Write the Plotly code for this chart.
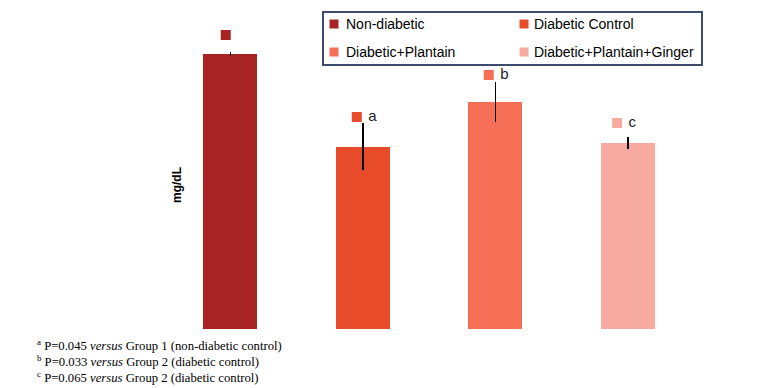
import plotly.graph_objects as go

groups = ["Non-diabetic", "Diabetic Control", "Diabetic+Plantain", "Diabetic+Plantain+Ginger"]
values = [274.7, 182.3, 227.3, 186.0]
errors = [2.0, 23.5, 20.0, 5.7]
colors = ["#A82424", "#E84B2A", "#F46F55", "#F6AAA0"]
sig_letters = ["", "a", "b", "c"]
label_heights = [294, 212, 254, 206]
label_offsets = [-0.034, -0.045, -0.049, -0.08]

footnotes = [
    "<sup>a</sup> P=0.045 <i>versus</i> Group 1 (non-diabetic control)",
    "<sup>b</sup> P=0.033 <i>versus</i> Group 2 (diabetic control)",
    "<sup>c</sup> P=0.065 <i>versus</i> Group 2 (diabetic control)",
]

# layout geometry (pixels)
W, H = 782, 388
L, R, T, B = 164, 88, 29, 59
PW, PH = W - L - R, H - T - B


def px_x(p):
    return (p - L) / PW


def px_y(p):
    return (H - B - p) / PH


fig = go.Figure()
for i, g in enumerate(groups):
    fig.add_trace(go.Bar(
        x=[i], y=[values[i]], name=g, width=0.41,
        marker=dict(color=colors[i], line=dict(width=0)),
        error_y=dict(type="data", array=[errors[i]], color="black", thickness=1.5, width=0),
        showlegend=False,
    ))
for i, g in enumerate(groups):
    fig.add_trace(go.Scatter(
        x=[i + label_offsets[i]], y=[label_heights[i]],
        mode="markers+text" if sig_letters[i] else "markers",
        marker=dict(symbol="square", size=10, color=colors[i]),
        text=["\u00a0" + sig_letters[i]] if sig_letters[i] else None, textposition="middle right",
        textfont=dict(family="Liberation Sans", size=15, color="#222"),
        showlegend=False, hoverinfo="skip",
    ))

# legend box
shapes = [dict(type="rect", xref="paper", yref="paper",
               x0=px_x(323), x1=px_x(702), y0=px_y(65), y1=px_y(12),
               line=dict(color="#3D4B6E", width=2), fillcolor="white", layer="above")]
col_sq = [334, 524]
col_tx = [345, 533]
row_y = [24, 52]
for i, g in enumerate(groups):
    cx, cy = col_sq[i % 2], row_y[i // 2]
    shapes.append(dict(type="rect", xref="paper", yref="paper",
                       x0=px_x(cx - 4.5), x1=px_x(cx + 4.5), y0=px_y(cy + 4.5), y1=px_y(cy - 4.5),
                       line=dict(width=0), fillcolor=colors[i], layer="above"))
    fig.add_annotation(text=g, xref="paper", yref="paper", x=px_x(col_tx[i % 2]), y=px_y(cy),
                       xanchor="left", yanchor="middle", showarrow=False, borderpad=0,
                       font=dict(family="Liberation Sans", size=14, color="black"))

fig.add_annotation(text="<b>mg/dL</b>", xref="paper", yref="paper", x=px_x(177), y=px_y(185),
                   xanchor="center", yanchor="middle",
                   textangle=-90, showarrow=False,
                   font=dict(family="Liberation Sans", size=12, color="black"))
for k, line in enumerate(footnotes):
    fig.add_annotation(text=line, xref="paper", yref="paper",
                       x=px_x(36), y=px_y(345 + 16 * k), xanchor="left", yanchor="middle",
                       align="left", showarrow=False, borderpad=0,
                       font=dict(family="Liberation Serif", size=12.7, color="black"))

fig.update_layout(
    width=W, height=H,
    margin=dict(l=L, r=R, t=T, b=B),
    plot_bgcolor="white", paper_bgcolor="white",
    xaxis=dict(range=[-0.5, 3.5], visible=False),
    yaxis=dict(range=[0, 300], visible=False),
    bargap=0, showlegend=False,
    shapes=shapes,
)
fig.write_html("out.html", config={"displayModeBar": False},
               post_script="document.body.style.margin='0';document.body.style.overflow='hidden';")
